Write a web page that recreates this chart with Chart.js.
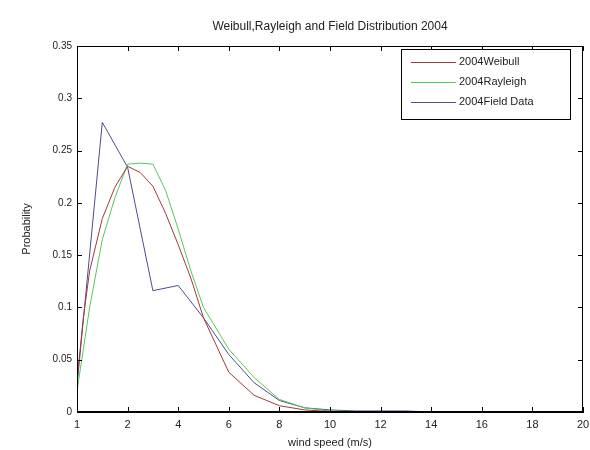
<!DOCTYPE html>
<html>
<head>
<meta charset="utf-8">
<title>Weibull, Rayleigh and Field Distribution</title>
<script src="https://cdn.jsdelivr.net/npm/chart.js@4/dist/chart.umd.min.js"></script>
<style>
    body { margin: 0; background: #fff; }
    #chart { display: block; }
</style>
</head>
<body>
<canvas id="chart" width="590" height="450"></canvas>
<script>
// data
const chartTitle = "Weibull,Rayleigh and Field Distribution 2004";
const fitSpeed = [0, 0.25, 0.5, 1, 1.5, 2, 2.5, 3, 3.5, 4, 4.5, 5, 6, 7, 8, 9, 10, 12, 14, 16, 18, 20];
const weibull = [0.03, 0.09, 0.135, 0.185, 0.215, 0.235, 0.229, 0.216, 0.19, 0.16, 0.128, 0.09, 0.038, 0.016, 0.006, 0.002, 0.0005, 0, 0, 0, 0, 0];
const rayleigh = [0.02, 0.06, 0.1, 0.165, 0.205, 0.237, 0.238, 0.237, 0.212, 0.175, 0.135, 0.1, 0.06, 0.033, 0.012, 0.004, 0.001, 0, 0, 0, 0, 0];
const fieldSpeed = [0, 1, 2, 3, 4, 5, 6, 7, 8, 9, 10, 11, 12, 13, 14, 15, 16, 17, 18, 19, 20];
const fieldData = [0.025, 0.277, 0.234, 0.116, 0.121, 0.09, 0.055, 0.028, 0.011, 0.004, 0.002, 0.001, 0.001, 0.001, 0, 0, 0, 0, 0, 0, 0];
const seriesNames = ["2004Weibull", "2004Rayleigh", "2004Field Data"];
const seriesColors = ["#a03a3a", "#58c858", "#4c4c90"];
const xTickLabels = ["1", "2", "4", "6", "8", "10", "12", "14", "16", "18", "20"];
const yTickLabels = ["0", "0.05", "0.1", "0.15", "0.2", "0.25", "0.3", "0.35"];

const FONT = "'Liberation Sans', Arial, sans-serif";
Chart.defaults.font.family = FONT;
Chart.defaults.color = "#222";

function toPoints(xs, ys) {
    return xs.map((x, i) => ({ x: x, y: ys[i] }));
}

// matlab style frame: box, inward ticks, title and legend box
const matlabFrame = {
    id: "matlabFrame",
    afterDraw(chart) {
        const ctx = chart.ctx;
        const area = chart.chartArea;
        const xs = chart.scales.x;
        const ys = chart.scales.y;
        const len = 5;

        ctx.save();
        ctx.strokeStyle = "#000";
        ctx.lineWidth = 1;
        ctx.strokeRect(area.left + 0.5, area.top + 0.5, area.right - area.left - 1, area.bottom - area.top - 1);

        ctx.beginPath();
        xs.ticks.forEach(t => {
            const px = Math.round(xs.getPixelForValue(t.value)) + 0.5;
            ctx.moveTo(px, area.bottom);
            ctx.lineTo(px, area.bottom - len);
            ctx.moveTo(px, area.top);
            ctx.lineTo(px, area.top + len);
        });
        ys.ticks.forEach(t => {
            const py = Math.round(ys.getPixelForValue(t.value)) + 0.5;
            ctx.moveTo(area.left, py);
            ctx.lineTo(area.left + len, py);
            ctx.moveTo(area.right, py);
            ctx.lineTo(area.right - len, py);
        });
        ctx.stroke();

        // title centred over the plot
        ctx.fillStyle = "#222";
        ctx.font = "12px " + FONT;
        ctx.textAlign = "center";
        ctx.textBaseline = "middle";
        ctx.fillText(chartTitle, (area.left + area.right) / 2, 27);

        // legend box in the upper right corner
        const bx = 401, by = 49, bw = 169, bh = 70;
        ctx.fillStyle = "#fff";
        ctx.fillRect(bx, by, bw, bh);
        ctx.strokeStyle = "#000";
        ctx.strokeRect(bx + 0.5, by + 0.5, bw, bh);
        ctx.font = "11px " + FONT;
        ctx.textAlign = "left";
        chart.data.datasets.forEach((ds, i) => {
            const ly = by + 13 + i * 20;
            ctx.strokeStyle = ds.borderColor;
            ctx.beginPath();
            ctx.moveTo(bx + 10, ly + 0.5);
            ctx.lineTo(bx + 55, ly + 0.5);
            ctx.stroke();
            ctx.fillStyle = "#222";
            ctx.fillText(ds.label, bx + 58, ly);
        });
        ctx.restore();
    }
};

new Chart("chart", {
    type: "line",
    data: {
        datasets: [
            { label: seriesNames[0], data: toPoints(fitSpeed, weibull), borderColor: seriesColors[0] },
            { label: seriesNames[1], data: toPoints(fitSpeed, rayleigh), borderColor: seriesColors[1] },
            { label: seriesNames[2], data: toPoints(fieldSpeed, fieldData), borderColor: seriesColors[2] }
        ]
    },
    options: {
        responsive: false,
        animation: false,
        devicePixelRatio: 1,
        layout: { padding: { left: 0, right: 7, top: 46, bottom: 0 } },
        elements: {
            line: { borderWidth: 1, tension: 0, fill: false },
            point: { radius: 0 }
        },
        plugins: {
            legend: { display: false },
            title: { display: false },
            tooltip: { enabled: false }
        },
        scales: {
            x: {
                type: "linear",
                min: 0,
                max: 20,
                ticks: {
                    stepSize: 2,
                    autoSkip: false,
                    maxRotation: 0,
                    padding: 6,
                    font: { size: 11 },
                    callback: (v, i) => xTickLabels[i] ?? v
                },
                grid: { drawOnChartArea: false, drawTicks: false },
                border: { color: "#000" },
                title: { display: true, text: "wind speed (m/s)", font: { size: 11 }, padding: 0 },
                afterFit: s => { s.height = 38; s.paddingLeft = 0; s.paddingRight = 0; }
            },
            y: {
                min: 0,
                max: 0.35,
                ticks: {
                    stepSize: 0.05,
                    padding: 5,
                    font: { size: 10 },
                    callback: (v, i) => yTickLabels[i] ?? v
                },
                grid: { drawOnChartArea: false, drawTicks: false },
                border: { color: "#000" },
                title: { display: true, text: "Probability", font: { size: 11 }, padding: { top: 20, bottom: 0 } },
                afterFit: s => { s.width = 77; }
            }
        }
    },
    plugins: [matlabFrame]
});
</script>
</body>
</html>
